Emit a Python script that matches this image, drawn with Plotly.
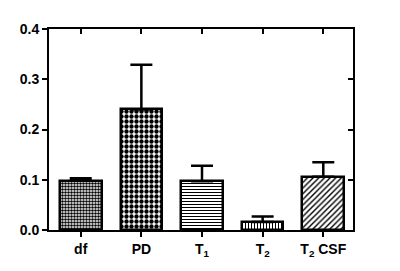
import plotly.graph_objects as go

categories = ["df", "PD", "T<sub>1</sub>", "T<sub>2</sub>", "T<sub>2</sub> CSF"]
values = [0.098, 0.240, 0.097, 0.016, 0.106]
errors = [0.005, 0.089, 0.031, 0.011, 0.029]
y_ticks = [0.0, 0.1, 0.2, 0.3, 0.4]

patterns = [".", ".", "-", "|", "/"]
pat_sizes = [3, 5, 3, 3, 4]
pat_solid = [0.55, 0.6, 0.35, 0.35, 0.35]

positions = list(range(len(categories)))

fig = go.Figure()
for i, cat in enumerate(categories):
    fig.add_trace(go.Bar(
        x=[positions[i]], y=[values[i]], width=0.686,
        marker=dict(color="white",
                    line=dict(color="black", width=2.5),
                    pattern=dict(shape=patterns[i], fgcolor="black", bgcolor="white",
                                 size=pat_sizes[i], solidity=pat_solid[i], fillmode="replace")),
        error_y=dict(type="data", symmetric=False, array=[errors[i]], arrayminus=[0],
                     visible=True, color="black", thickness=2.5, width=11),
        showlegend=False, name=cat,
    ))

fig.add_trace(go.Scatter(x=[], y=[], xaxis="x2", yaxis="y2", showlegend=False))

font = dict(family="Liberation Sans, Arial, sans-serif", size=14, color="black", weight="bold")
xr = [-0.523, 4.49]
fig.update_layout(
    width=392, height=263,
    margin=dict(l=38, r=47, t=21, b=39),
    plot_bgcolor="white", paper_bgcolor="white",
    font=font,
    bargap=0,
    xaxis=dict(range=xr, tickvals=positions, ticktext=categories,
               ticks="outside", ticklen=5, tickwidth=2, tickcolor="black",
               showline=True, linewidth=2, linecolor="black", showgrid=False, zeroline=False,
               tickfont=font),
    xaxis2=dict(range=xr, overlaying="x", side="top", tickvals=positions,
                ticks="inside", ticklen=5, tickwidth=1.5, tickcolor="black",
                showticklabels=False, showline=True, linewidth=2, linecolor="black",
                showgrid=False, zeroline=False),
    yaxis=dict(range=[0, 0.4], tickvals=y_ticks, tickformat=".1f",
               ticks="outside", ticklen=5, tickwidth=2, tickcolor="black",
               showline=True, linewidth=2, linecolor="black", showgrid=False, zeroline=False,
               tickfont=font),
    yaxis2=dict(range=[0, 0.4], overlaying="y", side="right", tickvals=y_ticks,
                ticks="inside", ticklen=5, tickwidth=2, tickcolor="black",
                showticklabels=False, showline=True, linewidth=2, linecolor="black",
                showgrid=False, zeroline=False),
)

fig.write_html("out.html")
